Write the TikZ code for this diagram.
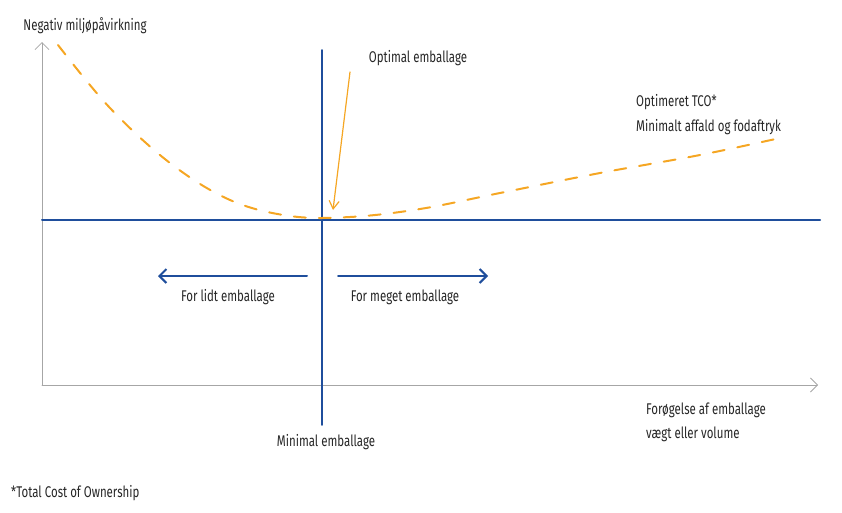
\documentclass[tikz,border=0pt]{standalone}
\usepackage{fontspec}
\setmainfont[FakeStretch=0.74]{Fira Sans}
\usetikzlibrary{arrows.meta}
\definecolor{dkblue}{HTML}{1F4E9C}
\definecolor{orng}{HTML}{F5A623}
\begin{document}
\begin{tikzpicture}[x=1pt, y=-1pt, line cap = round, line join = round]
\tikzstyle{axis}=[draw=gray!70, line width=0.8pt, -{Straight Barb[length=7pt,width=14pt]}]
\tikzstyle{bline}=[draw=dkblue, line width=2pt]
\tikzstyle{label}=[font=\fontsize{15.5}{18}\selectfont, text=black!85, inner sep=1pt]
\useasboundingbox (0,0) rectangle (842,512);
\coordinate (origin) at (42,385);
\coordinate (ytop) at (42,42);
\coordinate (xend) at (818,385);
\coordinate (hl) at (42,220);
\coordinate (hr) at (820,220);
\coordinate (vt) at (322,50);
\coordinate (vb) at (322,425);
\coordinate (optS) at (350,72);
\coordinate (optE) at (333,210);
\coordinate (lidtS) at (307,276);
\coordinate (lidtE) at (158,276);
\coordinate (megetS) at (338,276);
\coordinate (megetE) at (488,276);

\draw[axis] (origin) -- (ytop);
\draw[axis] (origin) -- (xend);
\draw[bline] (hl) -- (hr);
\draw[bline, line width=1.8pt] (vt) -- (vb);

\draw[orng, line width=2pt, dash pattern=on 12pt off 13pt] plot[smooth, tension=0.6] coordinates
  {(58,45) (110,108) (170,163) (230,200) (290,216) (350,217) (420,209) (500,193) (600,173) (700,155) (780,138)};

\draw[orng, line width=1.2pt, -{Straight Barb[length=8pt,width=10pt]}] (optS) -- (optE);
\draw[bline, -{Straight Barb[length=7pt,width=14pt]}] (lidtS) -- (lidtE);
\draw[bline, -{Straight Barb[length=7pt,width=14pt]}] (megetS) -- (megetE);

\node[label] (ylab) at (85,26) {Negativ miljøpåvirkning};
\node[label] (opt) at (418,58) {Optimal emballage};
\node[label, anchor=west] (tco) at (635,102) {Optimeret TCO*};
\node[label, anchor=west] (affald) at (635,127) {Minimalt affald og fodaftryk};
\node[label] (lidt) at (228,297) {For lidt emballage};
\node[label] (meget) at (405,297) {For meget emballage};
\node[label] (minimal) at (326,442) {Minimal emballage};
\node[label, anchor=west] (xlab1) at (645,410) {Forøgelse af emballage};
\node[label, anchor=west] (xlab2) at (645,434) {vægt eller volume};
\node[label, anchor=west] (foot) at (10,493) {*Total Cost of Ownership};
\end{tikzpicture}
\end{document}
